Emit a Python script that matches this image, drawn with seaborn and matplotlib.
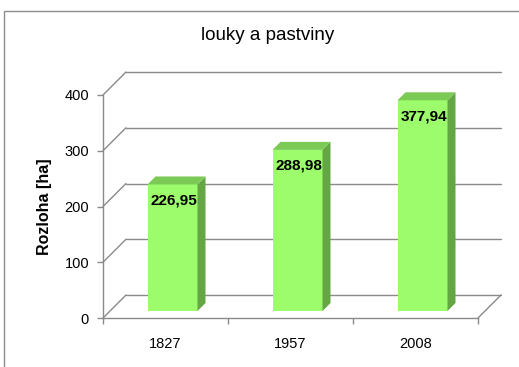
import numpy as np
import pandas as pd
import matplotlib
matplotlib.use("Agg")
import matplotlib.pyplot as plt
import seaborn as sns
from matplotlib.patches import Polygon, Rectangle
from matplotlib.transforms import ScaledTranslation

# Data
years = ["1827", "1957", "2008"]
area = [226.95, 288.98, 377.94]
value_labels = ["226,95", "288,98", "377,94"]
yticks = [0, 100, 200, 300, 400]

# Style
FRONT = "#9dfc6b"
SIDE = "#64a644"
TOP = "#7cca56"
GRID = "#8a8a8a"
DPI = 100
WALL = 23    # depth of the back wall, px
SHIFT = 7    # bars sit this far behind the front plane, px
DEPTH = 8    # bar depth, px

sns.set_theme(style="white")
plt.rcParams["font.family"] = ["Liberation Sans", "DejaVu Sans"]
plt.rcParams["text.color"] = "black"
plt.rcParams["xtick.color"] = "black"
plt.rcParams["ytick.color"] = "black"

fig = plt.figure(figsize=(5.19, 3.67), dpi=DPI)
ax = fig.add_axes([103 / 519, 49 / 367, 375 / 519, 223 / 367])

df = pd.DataFrame({"year": years, "area": area})
sns.barplot(data=df, x="year", y="area", color=FRONT, width=0.4,
            saturation=1, ax=ax, zorder=3, linewidth=0)
ax.set_xlim(-0.5, 2.5)
ax.set_ylim(0, 400)

# px -> data conversion
bbox = ax.get_window_extent()
ux = bbox.width / 3
uy = bbox.height / 400

wdx, wdy = WALL / ux, WALL / uy
ddx, ddy = DEPTH / ux, DEPTH / uy

# back wall gridlines + left side diagonals
for t in yticks:
    ax.plot([-0.5 + wdx, 2.5 + wdx], [t + wdy] * 2, color=GRID, lw=1,
            clip_on=False, zorder=1)
    ax.plot([-0.5, -0.5 + wdx], [t, t + wdy], color=GRID, lw=1,
            clip_on=False, zorder=1)
ax.plot([2.5, 2.5 + wdx], [0, wdy], color=GRID, lw=1, clip_on=False, zorder=1)

# 3D bars
shift = ax.transData + ScaledTranslation(SHIFT / DPI, SHIFT / DPI, fig.dpi_scale_trans)
for bar, lab in zip(ax.patches, value_labels):
    bar.set_transform(shift)
    bar.set_clip_on(False)
    x0 = bar.get_x()
    x1 = x0 + bar.get_width()
    h = bar.get_height()
    side = Polygon([(x1, 0), (x1 + ddx, ddy), (x1 + ddx, h + ddy), (x1, h)],
                   closed=True, facecolor=SIDE, edgecolor="none",
                   transform=shift, clip_on=False, zorder=3)
    top = Polygon([(x0, h), (x1, h), (x1 + ddx, h + ddy), (x0 + ddx, h + ddy)],
                  closed=True, facecolor=TOP, edgecolor="none",
                  transform=shift, clip_on=False, zorder=3)
    ax.add_patch(side)
    ax.add_patch(top)
    ax.text((x0 + x1) / 2, h, lab,
            transform=ax.transData + ScaledTranslation((SHIFT + 1.5) / DPI, (SHIFT - 9) / DPI,
                                                       fig.dpi_scale_trans),
            ha="center", va="top", fontsize=11, fontweight="bold",
            color="black", zorder=4)

# axes
for s in ["top", "right"]:
    ax.spines[s].set_visible(False)
for s in ["left", "bottom"]:
    ax.spines[s].set_color(GRID)
    ax.spines[s].set_linewidth(1)
ax.set_yticks(yticks)
ax.tick_params(axis="y", length=4, width=1, color=GRID, pad=6,
               labelsize=10.5, labelcolor="black", left=True)
ax.set_xticks([0, 1, 2])
ax.set_xticklabels(years)
ax.set_xticks([-0.5, 0.5, 1.5, 2.5], minor=True)
ax.tick_params(axis="x", which="major", length=0, pad=14,
               labelsize=10.5, labelcolor="black")
ax.tick_params(axis="x", which="minor", length=4, width=1, color=GRID, bottom=True)
ax.set_xlabel("")
ax.set_ylabel("")

fig.text(267.5 / 519, 1 - 35.5 / 367, "louky a pastviny", ha="center", va="center",
         fontsize=13.5, color="black")
fig.text(45 / 519, 1 - 207 / 367, "Rozloha [ha]", rotation=90, ha="center",
         va="center", fontsize=11.5, fontweight="bold", color="black")

# chart frame
fig.patches.append(Rectangle((3.5 / 519, -0.1), 2, 1.1 - 11 / 367, transform=fig.transFigure,
                             fill=False, edgecolor="#8c8c8c", lw=1))

fig.savefig("out.png", dpi=DPI)
